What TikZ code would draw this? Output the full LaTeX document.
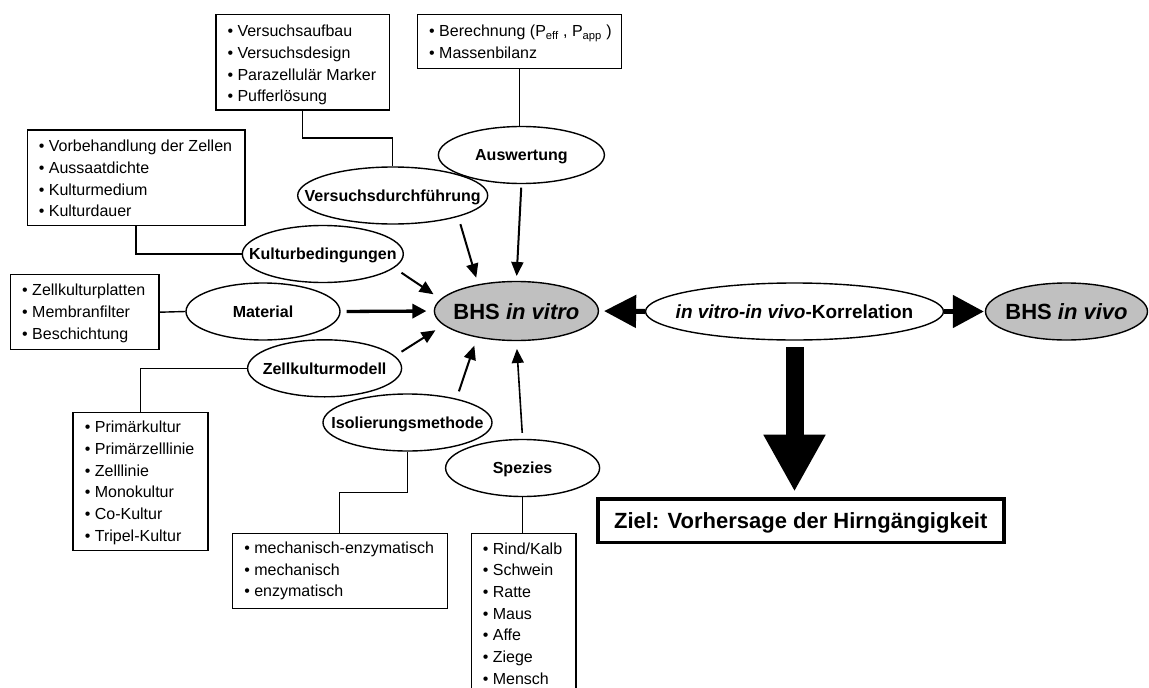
\documentclass[tikz,border=0pt]{standalone}
\usepackage{fontspec}
\setmainfont{Liberation Sans}
\usetikzlibrary{arrows.meta,shapes.geometric,calc}
\definecolor{bhsgray}{RGB}{192,192,192}
\begin{document}
\begin{tikzpicture}[x=1pt,y=-1pt,
  oval/.style={ellipse, draw, line width=1.4pt, inner sep=0pt, text height=11.5pt, text depth=0pt, font=\bfseries\fontsize{16}{19}\selectfont},
  bigoval/.style={oval, font=\bfseries\fontsize{22}{26}\selectfont, text height=16pt},
  listbox/.style={draw, line width=1.4pt, anchor=north west, inner sep=0pt},
  listtext/.style={anchor=north west, inner sep=0pt, align=left, font=\fontsize{16}{21.7}\selectfont},
  link/.style={line width=1.4pt},
  arr/.style={line width=2pt, -{Triangle[length=14pt,width=12pt]}}]
\useasboundingbox (0,0) rectangle (1149,688);
\clip (0,0) rectangle (1149,688);

% ellipses
\node[oval, minimum width=166pt, minimum height=57pt] (aus) at (521.4,155) {\makebox[0pt]{Auswertung}};
\node[oval, minimum width=190pt, minimum height=57pt] (vd) at (392.7,195.5) {\makebox[0pt]{Versuchsdurchführung}};
\node[oval, minimum width=161pt, minimum height=57pt] (kb) at (322.8,254) {\makebox[0pt]{Kulturbedingungen}};
\node[oval, minimum width=154pt, minimum height=57pt] (mat) at (263,311.5) {\makebox[0pt]{Material}};
\node[oval, minimum width=154pt, minimum height=57pt] (zk) at (324.6,368.3) {\makebox[0pt]{Zellkulturmodell}};
\node[oval, minimum width=169pt, minimum height=57pt] (iso) at (407.5,422.5) {\makebox[0pt]{Isolierungsmethode}};
\node[oval, minimum width=154pt, minimum height=57pt] (spz) at (522.6,468) {\makebox[0pt]{Spezies}};
\node[bigoval, fill=bhsgray, minimum width=164pt, minimum height=59pt] (vitro) at (516.4,311) {\makebox[0pt]{BHS \textit{in vitro}}};
\node[oval, minimum width=298pt, minimum height=57pt, font=\bfseries\fontsize{19}{23}\selectfont, text height=13.7pt] (korr) at (794.5,311.5) {\makebox[0pt]{\textit{in vitro-in vivo}-Korrelation}};
\node[bigoval, fill=bhsgray, minimum width=162pt, minimum height=57pt] (vivo) at (1066.5,311.5) {\makebox[0pt]{BHS \textit{in vivo}}};

% list boxes
\node[listbox, minimum width=173.2pt, minimum height=95.3pt] (boxA) at (215.3,14) {};
\node[listtext] (txtA) at ($(boxA.north west)+(12,7.5)$) {\strut• Versuchsaufbau\\\strut• Versuchsdesign\\\strut• Parazellulär Marker\\\strut• Pufferlösung};
\node[listbox, minimum width=204pt, minimum height=53.7pt] (boxB) at (417,14) {};
\node[listtext] (txtB) at ($(boxB.north west)+(12,7.5)$) {\strut• Berechnung (P\textsubscript{eff} , P\textsubscript{app} )\\\strut• Massenbilanz};
\node[listbox, minimum width=217.6pt, minimum height=95.7pt] (boxC) at (26.6,129.3) {};
\node[listtext] (txtC) at ($(boxC.north west)+(12,7.2)$) {\strut• Vorbehandlung der Zellen\\\strut• Aussaatdichte\\\strut• Kulturmedium\\\strut• Kulturdauer};
\node[listbox, minimum width=148.3pt, minimum height=75pt] (boxD) at (10,274) {};
\node[listtext] (txtD) at ($(boxD.north west)+(12,6.5)$) {\strut• Zellkulturplatten\\\strut• Membranfilter\\\strut• Beschichtung};
\node[listbox, minimum width=135.1pt, minimum height=138.3pt] (boxE) at (72.1,411.7) {};
\node[listtext] (txtE) at ($(boxE.north west)+(12.5,5.8)$) {\strut• Primärkultur\\\strut• Primärzelllinie\\\strut• Zelllinie\\\strut• Monokultur\\\strut• Co-Kultur\\\strut• Tripel-Kultur};
\node[listbox, minimum width=214.9pt, minimum height=75pt] (boxF) at (231.6,532.7) {};
\node[listtext] (txtF) at ($(boxF.north west)+(12.5,5.3)$) {\strut• mechanisch-enzymatisch\\\strut• mechanisch\\\strut• enzymatisch};
\node[listbox, minimum width=104.7pt, minimum height=170pt] (boxG) at (470.6,532.7) {};
\node[listtext] (txtG) at ($(boxG.north west)+(12,6)$) {\strut• Rind/Kalb\\\strut• Schwein\\\strut• Ratte\\\strut• Maus\\\strut• Affe\\\strut• Ziege\\\strut• Mensch};

% goal box
\node[draw, line width=3.5pt, minimum width=406pt, minimum height=43.3pt, inner sep=0pt,
      font=\bfseries\fontsize{22}{26}\selectfont, text height=16pt, text depth=0pt] (ziel) at (800.8,520.7) {Ziel: Vorhersage der Hirngängigkeit};

% box connectors
\draw[link] (boxA.south) -- ++(0,27.4) -| (vd.north);
\draw[link] (boxB.south) -- (boxB.south |- aus.north);
\draw[link] (boxC.south) |- (kb.west);
\draw[link] (boxD.east) -- (mat.west);
\draw[link] (zk.west) -| (boxE.north);
\draw[link] (iso.south) -- ++(0,40.7) -| (boxF.north);
\draw[link] (spz.south) -- (spz.south |- boxG.north);

% arrows into BHS in vitro
\draw[arr, shorten <=3.5pt, shorten >=4.8pt] (aus.south) -- (vitro.north);
\draw[arr, shorten <=7.7pt, shorten >=6.8pt] (vd.-18) -- (vitro.145);
\draw[arr, shorten <=8.7pt, shorten >=8.4pt] (kb.-11) -- (vitro.171.5);
\draw[line width=3.3pt, -{Triangle[length=14pt,width=14pt]}, shorten <=6pt, shorten >=7.3pt] (mat.east) -- (vitro.west);
\draw[arr, shorten <=7.8pt, shorten >=9.4pt] (zk.10) -- (vitro.191);
\draw[arr, shorten <=7.7pt, shorten >=8.5pt] (iso.26) -- (vitro.-146);
\draw[arr, line width=1.6pt, shorten <=6pt, shorten >=7.8pt] (spz.north) -- (vitro.south);

% correlation arrows
\draw[line width=5pt, -{Triangle[length=32pt,width=32pt]}, shorten >=5pt] (korr.west) -- (vitro.east);
\draw[line width=5pt, -{Triangle[length=31pt,width=32pt]}, shorten >=1pt] (korr.east) -- (vivo.west);
\draw[line width=18pt, -{Triangle[length=57pt,width=58pt]}, shorten <=6.5pt, shorten >=5.6pt] (korr.south) -- (korr.south |- ziel.north);
\end{tikzpicture}
\end{document}
